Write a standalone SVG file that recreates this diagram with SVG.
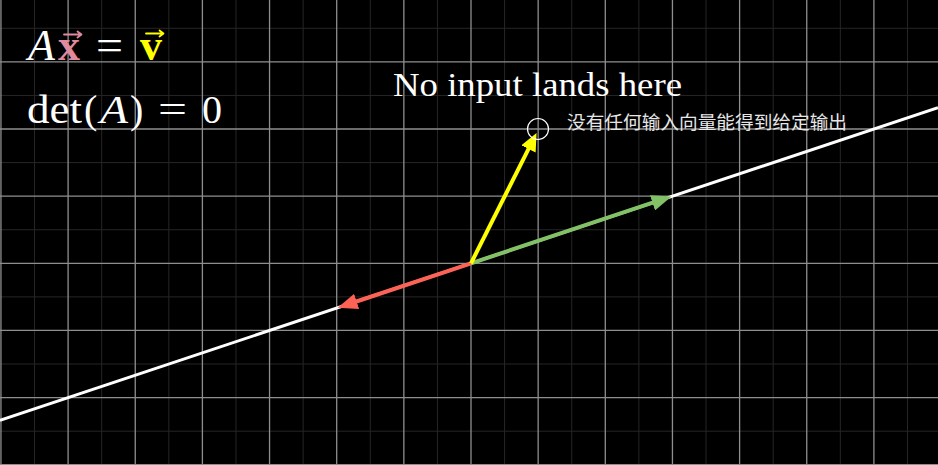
<svg xmlns="http://www.w3.org/2000/svg" width="938" height="465" viewBox="0 0 938 465">
  <style>
    .minor { stroke: #262626; stroke-width: 1; fill: none; }
    .major { stroke: #8e8e8e; stroke-width: 1.3; fill: none; }
    .serif { font-family: "Liberation Serif", "DejaVu Serif", serif; fill: #ffffff; }
    .cjk { font-family: "Noto Sans CJK SC", "Noto Sans", sans-serif; fill: #e6e6e6; }
    .vec { fill: none; stroke-width: 1.8; stroke-linecap: round; stroke-linejoin: round; }
  </style>
  <defs>
    <marker id="headGreen" viewBox="0 -8 20 16" refX="1" refY="0" markerWidth="20" markerHeight="16" markerUnits="userSpaceOnUse" orient="auto">
      <path d="M0,-8 L20,0 L0,8 Z" fill="#83C167"/>
    </marker>
    <marker id="headRed" viewBox="0 -8 20 16" refX="1" refY="0" markerWidth="20" markerHeight="16" markerUnits="userSpaceOnUse" orient="auto">
      <path d="M0,-8 L20,0 L0,8 Z" fill="#FC6255"/>
    </marker>
    <marker id="headYellow" viewBox="0 -8 18 16" refX="1" refY="0" markerWidth="18" markerHeight="16" markerUnits="userSpaceOnUse" orient="auto">
      <path d="M0,-8 L18,0 L0,8 Z" fill="#FFFF00"/>
    </marker>
  </defs>
  <rect x="0" y="0" width="938" height="465" fill="#000000"/>
  <g id="grid">
    <path class="minor" d="M34.53 0V465M101.68 0V465M168.83 0V465M235.98 0V465M303.13 0V465M370.28 0V465M437.43 0V465M504.58 0V465M571.73 0V465M638.88 0V465M706.03 0V465M773.18 0V465M840.33 0V465M907.48 0V465M0 28.28H938M0 95.43H938M0 162.58H938M0 229.73H938M0 296.88H938M0 364.03H938M0 431.18H938"/>
    <path class="major" d="M0.95 0V465M68.1 0V465M135.25 0V465M202.4 0V465M269.55 0V465M336.7 0V465M403.85 0V465M471 0V465M538.15 0V465M605.3 0V465M672.45 0V465M739.6 0V465M806.75 0V465M873.9 0V465M0 61.85H938M0 129H938M0 196.15H938M0 263.3H938M0 330.45H938M0 397.6H938M0 464.75H938"/>
  </g>
  <g id="connectors">
    <line id="span-line" x1="0" y1="420.3" x2="938" y2="107.63" stroke="#ffffff" stroke-width="3"/>
    <line id="vec-green" x1="471" y1="263.3" x2="653.48" y2="202.47" stroke="#83C167" stroke-width="4" marker-end="url(#headGreen)"/>
    <line id="vec-red" x1="471" y1="263.3" x2="355.67" y2="301.75" stroke="#FC6255" stroke-width="4" marker-end="url(#headRed)"/>
    <line id="vec-yellow" x1="471" y1="263.3" x2="528.92" y2="148.08" stroke="#FFFF00" stroke-width="4" marker-end="url(#headYellow)"/>
  </g>
  <g id="target-circle">
    <circle cx="538" cy="129" r="10.5" fill="none" stroke="#ffffff" stroke-width="1.2"/>
  </g>
  <g id="eq1">
    <text class="serif" x="28" y="60" font-size="44" font-style="italic">A</text>
    <text class="serif" x="58" y="60" font-size="44" font-weight="bold" fill="#E08A9E" style="fill:#E08A9E">x</text>
    <text class="serif" x="96" y="60" font-size="44" textLength="27" lengthAdjust="spacingAndGlyphs">=</text>
    <text class="serif" x="140" y="60" font-size="44" font-weight="bold" style="fill:#FFFF00">v</text>
    <path class="vec" stroke="#E08A9E" d="M64 34.5H81M77.5 31.5L81.5 34.5L77.5 37.5"/>
    <path class="vec" stroke="#FFFF00" d="M146 33.5H163M159.5 30.5L163.5 33.5L159.5 36.5"/>
  </g>
  <g id="eq2">
    <text class="serif" x="27" y="123" font-size="40" textLength="55" lengthAdjust="spacingAndGlyphs">det</text>
    <text class="serif" x="84" y="123" font-size="40">(</text>
    <text class="serif" x="100" y="123" font-size="40" font-style="italic" textLength="28" lengthAdjust="spacingAndGlyphs">A</text>
    <text class="serif" x="130" y="123" font-size="40">)</text>
    <text class="serif" x="158" y="123" font-size="40" textLength="29" lengthAdjust="spacingAndGlyphs">=</text>
    <text class="serif" x="202" y="123" font-size="40">0</text>
  </g>
  <g id="label-en">
    <text class="serif" x="393" y="96" font-size="34" textLength="289" lengthAdjust="spacingAndGlyphs">No input lands here</text>
  </g>
  <g id="label-zh">
    <text class="cjk" x="567" y="128.5" font-size="18.7" textLength="280" lengthAdjust="spacingAndGlyphs">没有任何输入向量能得到给定输出</text>
  </g>
</svg>
